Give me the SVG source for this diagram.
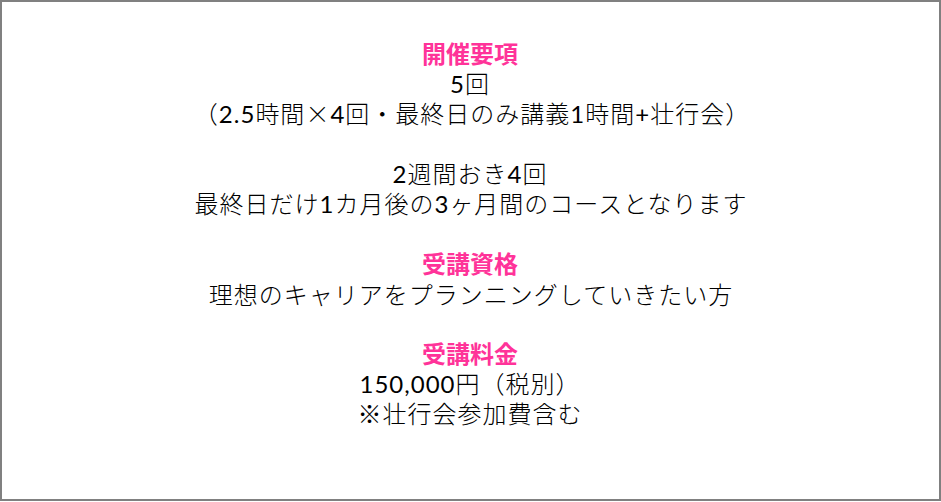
<svg xmlns="http://www.w3.org/2000/svg" width="941" height="502" viewBox="0 0 941 502">
<style>
.t{font-family:"Lato","Noto Sans CJK JP",sans-serif;font-size:24px;fill:#000;text-anchor:middle;font-weight:300;letter-spacing:1px}
.d{font-weight:400}
.j{font-family:"Noto Sans CJK JP",sans-serif}
.h{font-family:"Noto Sans CJK JP",sans-serif;font-size:24px;fill:#FF3399;text-anchor:middle;font-weight:700}
</style>
<rect x="1" y="1" width="939" height="499" fill="#fff" stroke="#808080" stroke-width="2"/>
<g id="text">
<text class="h" x="470" y="63">開催要項</text>
<text class="t" x="470" y="93"><tspan class="d">5</tspan>回</text>
<text class="t" x="472" y="123">（<tspan class="d">2.5</tspan>時間<tspan class="j">×</tspan><tspan class="d">4</tspan>回・最終日のみ講義<tspan class="d">1</tspan>時間<tspan class="d">+</tspan>壮行会）</text>
<text class="t" x="470" y="183"><tspan class="d">2</tspan>週間おき<tspan class="d">4</tspan>回</text>
<text class="t" x="471" y="213">最終日だけ<tspan class="d">1</tspan>カ月後の<tspan class="d">3</tspan>ヶ月間のコースとなります</text>
<text class="h" x="470" y="273">受講資格</text>
<text class="t" x="471" y="304">理想のキャリアをプランニングしていきたい方</text>
<text class="h" x="470" y="363">受講料金</text>
<text class="t" x="470" y="393"><tspan class="d">150,000</tspan>円（税別）</text>
<text class="t" x="470" y="423">※壮行会参加費含む</text>
</g>
</svg>
